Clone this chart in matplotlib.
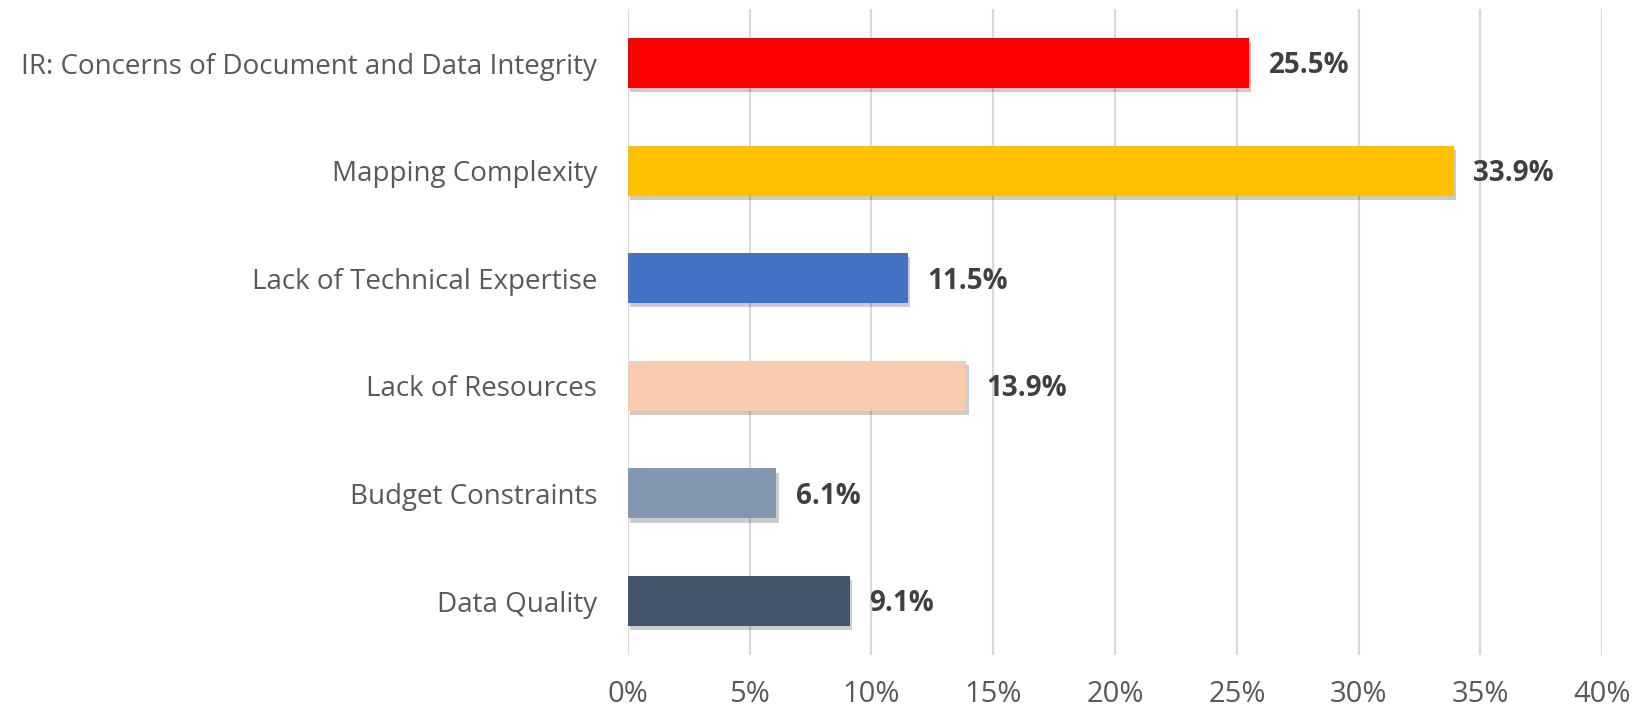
import matplotlib
matplotlib.use("Agg")
import matplotlib.pyplot as plt
import matplotlib.patheffects as pe
from matplotlib.ticker import FuncFormatter

# Data (top to bottom as shown in the chart)
categories = [
    "IR: Concerns of Document and Data Integrity",
    "Mapping Complexity",
    "Lack of Technical Expertise",
    "Lack of Resources",
    "Budget Constraints",
    "Data Quality",
]
values = [25.5, 33.9, 11.5, 13.9, 6.1, 9.1]
colours = ["#FF0000", "#FFC000", "#4472C4", "#F8CBAD", "#8497B0", "#44546A"]
x_ticks = [0, 5, 10, 15, 20, 25, 30, 35, 40]

LABEL_COLOUR = "#595959"
VALUE_COLOUR = "#404040"
GRID_COLOUR = "#D9D9D9"

plt.rcParams["font.family"] = ["Open Sans", "DejaVu Sans"]

fig = plt.figure(figsize=(16.35, 7.11), dpi=100)
ax = fig.add_axes([0.384, 0.079, 0.596, 0.908])

pos = list(range(len(categories)))
bars = ax.barh(pos, values, height=0.465, color=colours, zorder=3)
for bar in bars:
    bar.set_path_effects([
        pe.SimplePatchShadow(offset=(1.5, -3), shadow_rgbFace="#000000", alpha=0.2),
        pe.Normal(),
    ])

for bar, val in zip(bars, values):
    ax.annotate(f"{val:.1f}%", (val, bar.get_y() + bar.get_height() / 2),
                xytext=(14, -2), textcoords="offset points",
                ha="left", va="center", fontsize=20, fontweight="bold",
                color=VALUE_COLOUR)

ax.set_xlim(0, 40)
ax.set_ylim(len(categories) - 0.5, -0.5)
ax.set_xticks(x_ticks)
ax.xaxis.set_major_formatter(FuncFormatter(lambda v, _: f"{v:.0f}%"))
ax.set_yticks(pos)
ax.set_yticklabels(categories)

ax.grid(axis="x", color=GRID_COLOUR, linewidth=1.6, zorder=0)
ax.set_axisbelow(True)
for s in ax.spines.values():
    s.set_visible(False)
ax.tick_params(axis="y", length=0, labelsize=20, labelcolor=LABEL_COLOUR, pad=22)
ax.tick_params(axis="x", length=0, labelsize=21, labelcolor=LABEL_COLOUR, pad=18)

fig.savefig("out.png", dpi=100, facecolor="white")
